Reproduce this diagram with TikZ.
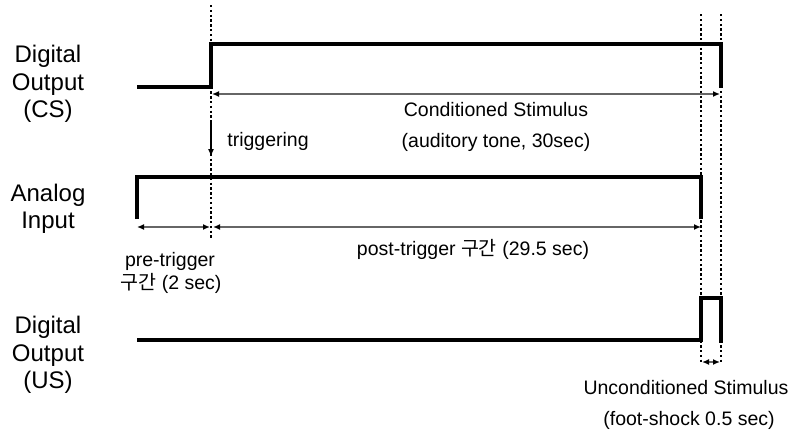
\documentclass[tikz,border=0pt]{standalone}
\usepackage{fontspec}
\setmainfont{Liberation Sans}
\newfontfamily\kr{Noto Sans CJK KR}
\usetikzlibrary{arrows.meta}
\begin{document}
\begin{tikzpicture}[x=1pt,y=-1pt,
  sig/.style={line width=3.2pt, black, line join=miter},
  meas/.style={line width=1.6pt, black!60, {Latex[length=7pt,width=6pt,color=black]}-{Latex[length=7pt,width=6pt,color=black]}},
  trig/.style={line width=1.8pt, black, -{Latex[length=8pt,width=6pt]}},
  dotline/.style={line width=2.8pt, black, dash pattern=on 2.4pt off 2.4pt},
  lbl/.style={font=\fontsize{24}{27.5}\selectfont, align=center, inner sep=0pt},
  txt/.style={font=\fontsize{19.5}{23}\selectfont, inner sep=0pt, align=center}
]
\useasboundingbox[fill=white] (0,0) rectangle (791,434);

% dotted reference lines
\coordinate (d1t) at (211,5);   \coordinate (d1b) at (211,240);
\coordinate (d2t) at (701,14);  \coordinate (d2b) at (701,364);
\coordinate (d3t) at (721,14);  \coordinate (d3b) at (721,364);
\draw[dotline] (d1t) -- (d1b);
\draw[dotline] (d2t) -- (d2b);
\draw[dotline] (d3t) -- (d3b);

% CS signal
\coordinate (cs0) at (137,87); \coordinate (cs1) at (211,87); \coordinate (cs2) at (211,44);
\coordinate (cs3) at (721,44); \coordinate (cs4) at (721,88);
\draw[sig] (cs0) -- (cs1) -- (cs2) -- (cs3) -- (cs4);

% CS duration arrow
\coordinate (csa) at (212,94); \coordinate (csb) at (720,94);
\draw[meas] (csa) -- (csb);

% triggering arrow
\coordinate (tra) at (211,120); \coordinate (trb) at (211,157);
\draw[trig] (tra) -- (trb);

% Analog input
\coordinate (an0) at (137,219); \coordinate (an1) at (137,177);
\coordinate (an2) at (701,177); \coordinate (an3) at (701,219);
\draw[sig] (an0) -- (an1) -- (an2) -- (an3);

% pre / post trigger arrows
\coordinate (pra) at (137,227); \coordinate (prb) at (210,227);
\coordinate (poa) at (213,227); \coordinate (pob) at (701,227);
\draw[meas] (pra) -- (prb);
\draw[meas] (poa) -- (pob);

% US signal
\coordinate (us0) at (137,340); \coordinate (us1) at (701,340); \coordinate (us2) at (701,298);
\coordinate (us3) at (721,298); \coordinate (us4) at (721,343);
\draw[sig] (us0) -- (us1) -- (us2) -- (us3) -- (us4);

\coordinate (usa) at (702,362); \coordinate (usb) at (720,362);
\draw[meas] (usa) -- (usb);

% left labels
\node[lbl] (lcs) at (48,84) {Digital\\Output\\(CS)};
\node[lbl] (lan) at (48,209) {Analog\\Input};
\node[lbl] (lus) at (48,355) {Digital\\Output\\(US)};

% texts
\node[txt] (cst) at (496,110) {Conditioned Stimulus};
\node[txt] (csd) at (496,142) {(auditory tone, 30sec)};
\node[txt] (trt) at (268,141) {triggering};
\node[txt] (prt) at (170,261) {pre-trigger};
\node[txt] (prd) at (171,283) {{\kr 구간} (2 sec)};
\node[txt] (pot) at (473,249) {post-trigger {\kr 구간} (29.5 sec)};
\node[txt] (ust) at (686,388) {Unconditioned Stimulus};
\node[txt] (usd) at (689,420) {(foot-shock 0.5 sec)};
\end{tikzpicture}
\end{document}
